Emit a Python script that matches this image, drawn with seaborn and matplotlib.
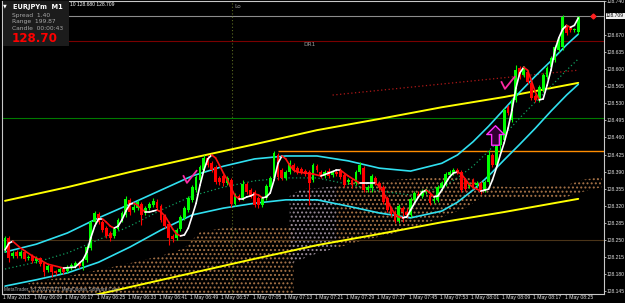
import numpy as np
import matplotlib
matplotlib.use("Agg")
import matplotlib.pyplot as plt
from matplotlib.path import Path
from matplotlib.collections import LineCollection
import matplotlib.transforms as mtransforms
import seaborn as sns

# ---------------- data (bar index 0 = 06:02, one bar per minute) ----------------
O = [128.229,128.254,128.217,128.225,128.217,128.225,128.213,128.217,128.207,128.213,
     128.202,128.188,128.196,128.186,128.184,128.190,128.186,128.192,128.196,128.202,
     128.196,128.209,128.233,128.286,128.303,128.286,128.274,128.264,128.258,128.272,
     128.291,128.301,128.332,128.311,128.315,128.323,128.305,128.315,128.321,128.327,
     128.319,128.299,128.282,128.258,128.254,128.272,128.295,128.311,128.332,128.352,
     128.373,128.393,128.418,128.407,128.399,128.377,128.381,128.366,128.373,128.323,
     128.340,128.336,128.364,128.352,128.348,128.336,128.321,128.336,128.358,128.377,
     128.424,128.393,128.377,128.389,128.403,128.397,128.395,128.391,128.389,128.373,
     128.401,128.389,128.381,128.391,128.383,128.389,128.393,128.383,128.369,128.373,
     128.366,128.389,128.397,128.352,128.356,128.377,128.366,128.358,128.336,128.315,
     128.307,128.289,128.315,128.307,128.301,128.332,128.344,128.340,128.348,128.342,
     128.329,128.332,128.356,128.364,128.383,128.387,128.393,128.389,128.373,128.360,
     128.373,128.362,128.366,128.352,128.369,128.424,128.403,128.444,128.455,128.522,
     128.496,128.537,128.602,128.588,128.594,128.572,128.545,128.537,128.557,128.584,
     128.604,128.619,128.639,128.645,128.686,128.684,128.680,128.676]
C = [128.254,128.213,128.223,128.217,128.225,128.211,128.215,128.207,128.213,128.200,
     128.184,128.196,128.184,128.182,128.190,128.184,128.194,128.198,128.202,128.196,
     128.211,128.235,128.286,128.305,128.286,128.270,128.258,128.254,128.272,128.291,
     128.305,128.334,128.307,128.317,128.327,128.301,128.315,128.323,128.329,128.315,
     128.291,128.278,128.254,128.252,128.270,128.297,128.315,128.336,128.358,128.379,
     128.399,128.418,128.403,128.393,128.369,128.369,128.366,128.377,128.323,128.342,
     128.334,128.364,128.348,128.340,128.321,128.321,128.336,128.360,128.377,128.428,
     128.379,128.377,128.389,128.407,128.393,128.389,128.389,128.385,128.366,128.403,
     128.393,128.383,128.389,128.381,128.389,128.385,128.379,128.362,128.373,128.362,
     128.389,128.403,128.352,128.358,128.381,128.366,128.356,128.327,128.311,128.303,
     128.289,128.319,128.307,128.301,128.334,128.346,128.340,128.350,128.352,128.325,
     128.334,128.358,128.366,128.385,128.389,128.393,128.389,128.352,128.354,128.364,
     128.358,128.366,128.348,128.369,128.424,128.403,128.449,128.465,128.516,128.510,
     128.537,128.598,128.584,128.602,128.574,128.541,128.537,128.563,128.588,128.602,
     128.623,128.645,128.660,128.707,128.674,128.680,128.682,128.707]
Hi = [128.258,128.258,128.227,128.229,128.229,128.229,128.219,128.221,128.217,128.215,
      128.204,128.200,128.198,128.188,128.194,128.194,128.198,128.202,128.207,128.207,
      128.215,128.239,128.291,128.309,128.307,128.291,128.278,128.268,128.276,128.295,
      128.309,128.340,128.336,128.323,128.332,128.327,128.319,128.327,128.336,128.334,
      128.323,128.303,128.286,128.262,128.274,128.301,128.319,128.340,128.362,128.383,
      128.403,128.424,128.424,128.412,128.403,128.381,128.385,128.381,128.377,128.346,
      128.344,128.373,128.369,128.356,128.352,128.340,128.340,128.364,128.381,128.432,
      128.428,128.397,128.393,128.414,128.407,128.401,128.399,128.395,128.393,128.407,
      128.405,128.393,128.393,128.397,128.393,128.393,128.397,128.387,128.377,128.377,
      128.393,128.410,128.401,128.362,128.385,128.381,128.371,128.362,128.340,128.319,
      128.311,128.323,128.319,128.315,128.338,128.350,128.350,128.354,128.356,128.346,
      128.338,128.362,128.371,128.389,128.393,128.397,128.397,128.393,128.377,128.369,
      128.377,128.371,128.371,128.373,128.434,128.428,128.453,128.469,128.520,128.526,
      128.541,128.608,128.606,128.606,128.598,128.576,128.549,128.567,128.592,128.606,
      128.627,128.649,128.664,128.711,128.690,128.686,128.684,128.709]
Lo = [128.225,128.204,128.213,128.213,128.213,128.207,128.209,128.202,128.202,128.196,
      128.176,128.184,128.174,128.178,128.180,128.180,128.182,128.188,128.192,128.192,
      128.188,128.204,128.229,128.282,128.282,128.266,128.254,128.247,128.254,128.270,
      128.286,128.297,128.301,128.307,128.311,128.280,128.301,128.311,128.317,128.311,
      128.286,128.274,128.239,128.245,128.250,128.268,128.291,128.307,128.327,128.348,
      128.369,128.389,128.399,128.389,128.364,128.362,128.360,128.362,128.317,128.319,
      128.329,128.332,128.344,128.336,128.317,128.315,128.317,128.332,128.354,128.373,
      128.373,128.373,128.373,128.385,128.389,128.385,128.385,128.381,128.321,128.369,
      128.389,128.377,128.377,128.377,128.379,128.381,128.375,128.358,128.364,128.356,
      128.362,128.385,128.348,128.348,128.348,128.362,128.352,128.323,128.307,128.299,
      128.284,128.284,128.286,128.295,128.297,128.327,128.336,128.336,128.344,128.321,
      128.325,128.327,128.352,128.360,128.379,128.383,128.385,128.348,128.350,128.356,
      128.354,128.358,128.344,128.348,128.364,128.399,128.399,128.428,128.451,128.506,
      128.492,128.533,128.580,128.584,128.569,128.537,128.533,128.533,128.553,128.580,
      128.600,128.615,128.635,128.639,128.670,128.676,128.676,128.672]

# polynomial regression channel (cyan) and its middle (dotted green)
band_bars  = [0, 8, 16, 24, 32, 40, 48, 56, 64, 72, 80, 88, 96, 104, 112, 116, 120, 124, 128, 132, 136, 140, 144, 147]
band_upper = [128.225,128.241,128.264,128.295,128.323,128.352,128.381,128.401,128.416,128.422,128.422,128.412,
              128.397,128.391,128.407,128.424,128.451,128.483,128.518,128.553,128.586,128.617,128.650,128.672]
band_lower = [128.155,128.168,128.182,128.204,128.235,128.270,128.301,128.315,128.325,128.332,128.332,128.319,
              128.305,128.295,128.309,128.327,128.352,128.381,128.414,128.446,128.479,128.514,128.547,128.569]
band_mid   = [128.190,128.204,128.223,128.250,128.278,128.311,128.340,128.358,128.371,128.377,128.377,128.364,
              128.350,128.342,128.358,128.377,128.401,128.432,128.465,128.500,128.533,128.565,128.598,128.621]

# long regression channel (yellow)
chan_bars  = [0, 16, 32, 48, 64, 80, 96, 112, 128, 147]
chan_upper = [128.330,128.358,128.389,128.418,128.446,128.475,128.498,128.522,128.543,128.572]
chan_lower = [128.124,128.124,128.153,128.182,128.211,128.239,128.262,128.286,128.307,128.334]
chan_mid_bars = [84, 147]
chan_mid      = [128.547, 128.598]

# smoothed moving average (white = rising, red = falling)
ma_bars = [0,1,2,4,7,11,15,18,20,21,22,23,24,25,26,27,28,29,30,31,32,33,34,35,36,37,38,39,40,41,42,43,44,45,46,47,
           48,49,50,51,52,53,54,55,56,57,58,59,60,61,62,63,64,65,66,67,68,69,70,71,72,73,74,75,77,79,81,83,85,86,88,
           90,91,93,95,96,97,98,99,100,101,102,103,104,105,106,107,108,109,110,111,112,113,114,115,116,117,118,119,
           120,121,122,123,124,125,126,127,128,129,130,131,132,133,134,135,136,137,138,139,140,141,142,143,144,145,146,147]
ma_vals = [128.229,128.243,128.247,128.233,128.217,128.200,128.192,128.194,128.209,128.225,128.254,128.278,128.293,
           128.293,128.286,128.278,128.274,128.278,128.291,128.309,128.323,128.325,128.321,128.313,128.307,128.307,
           128.309,128.311,128.307,128.299,128.286,128.272,128.262,128.258,128.260,128.274,128.299,128.325,128.362,
           128.393,128.416,128.424,128.418,128.403,128.387,128.373,128.356,128.340,128.334,128.334,128.338,128.340,
           128.344,128.342,128.336,128.338,128.346,128.373,128.407,128.422,128.416,128.403,128.393,128.389,128.387,
           128.385,128.381,128.387,128.393,128.393,128.381,128.371,128.366,128.366,128.366,128.360,128.346,128.332,
           128.315,128.303,128.297,128.295,128.297,128.311,128.325,128.338,128.348,128.352,128.346,128.338,128.340,
           128.352,128.366,128.379,128.387,128.389,128.385,128.375,128.364,128.358,128.354,128.350,128.352,128.354,
           128.373,128.397,128.424,128.449,128.479,128.516,128.561,128.592,128.604,128.598,128.576,128.553,128.537,
           128.539,128.567,128.598,128.639,128.664,128.682,128.690,128.686,128.690,128.705]

# Ichimoku cloud (SandyBrown / Thistle areas)
kumo1_bars = [6, 14, 24, 32, 40, 46, 50, 56, 64, 72, 74]
kumo1_top  = [128.161,128.172,128.188,128.202,128.217,128.233,128.266,128.274,128.278,128.278,128.280]
kumo1_bot  = [128.120]*11
kumo2_bars = [73, 76, 80, 85]
kumo2_top  = [128.340,128.354,128.356,128.360]
kumo2_bot  = [128.200,128.210,128.222,128.233]
kumo3_bars = [85, 90, 100, 110, 118, 122]
kumo3_top  = [128.360,128.369,128.373,128.379,128.381,128.366]
kumo3_bot  = [128.233,128.245,128.264,128.290,128.315,128.336]
kumo4_bars = [122, 131, 144, 148, 153]
kumo4_top  = [128.362,128.358,128.362,128.373,128.379]
kumo4_bot  = [128.338,128.336,128.338,128.348,128.358]

# horizontal levels
lvl_price  = 128.709
lvl_dr1    = 128.657
lvl_green  = 128.499
lvl_orange = 128.432
lvl_orange_start = 70
lvl_brown  = 128.250
lo_bar = 58.3

# signals
check_bars, check_prices = [47.2, 128.7], [128.381, 128.574]
arrow_bar, arrow_price = 125.6, 128.465
dot_bar, dot_price = 150.8, 128.709

price_ticks = [128.145,128.180,128.215,128.250,128.285,128.320,128.355,128.390,128.425,128.460,
               128.495,128.530,128.565,128.600,128.635,128.670,128.740]
time_tick_bars = [-1, 7, 15, 23, 31, 39, 47, 55, 63, 71, 79, 87, 95, 103, 111, 119, 127, 135, 143]
time_tick_labels = ["1 May 2013", "1 May 06:09", "1 May 06:17", "1 May 06:25", "1 May 06:33", "1 May 06:41",
                    "1 May 06:49", "1 May 06:57", "1 May 07:05", "1 May 07:13", "1 May 07:21", "1 May 07:29",
                    "1 May 07:37", "1 May 07:45", "1 May 07:53", "1 May 08:01", "1 May 08:09", "1 May 08:17",
                    "1 May 08:25"]

# ---------------- drawing ----------------
sns.set_theme(style="dark")
plt.rcParams['font.family'] = ['DejaVu Sans']
plt.rcParams['hatch.linewidth'] = 0.9
SMALL = ['Liberation Sans', 'DejaVu Sans']

W, H = 625, 303
YLO, YHI = 128.1388, 128.7397
fig = plt.figure(figsize=(W / 100, H / 100), dpi=100, facecolor='black')
ax = fig.add_axes([2 / W, 9 / H, 602 / W, 293 / H])
ax.set_facecolor('black')
ax.set_xlim(-0.77, 153.6)
ax.set_ylim(YLO, YHI)
ax.grid(False)

# cloud
for bars, top, bot, col in [(kumo1_bars, kumo1_top, kumo1_bot, '#a87448'),
                            (kumo2_bars, kumo2_top, kumo2_bot, '#9a8c9a'),
                            (kumo3_bars, kumo3_top, kumo3_bot, '#a87448'),
                            (kumo4_bars, kumo4_top, kumo4_bot, '#a87448')]:
    ax.fill_between(bars, bot, top, facecolor='none', edgecolor=col, hatch='....', linewidth=0, zorder=1)

# horizontal levels
ax.axhline(lvl_price, color='#8c8c8c', lw=0.8, zorder=2)
ax.axhline(lvl_dr1, color='#7a0000', lw=0.8, zorder=2)
ax.axhline(lvl_green, color='#007a00', lw=0.8, zorder=2)
ax.axhline(lvl_brown, color='#4a3418', lw=0.8, zorder=2)
ax.hlines(lvl_orange, lvl_orange_start, 153.6, color='#ff8c00', lw=1.0, zorder=2)
ax.axvline(lo_bar, color='#5a6a20', lw=0.8, ls=(0, (1, 2)), zorder=2)

# channels
sns.lineplot(x=chan_bars, y=chan_upper, ax=ax, color='#ffff00', lw=1.4, zorder=3)
sns.lineplot(x=chan_bars, y=chan_lower, ax=ax, color='#ffff00', lw=1.4, zorder=3)
sns.lineplot(x=chan_mid_bars, y=chan_mid, ax=ax, color='#b01818', lw=0.9, ls=(0, (1, 2)), zorder=3)
sns.lineplot(x=band_bars, y=band_upper, ax=ax, color='#30e0f0', lw=1.2, zorder=3)
sns.lineplot(x=band_bars, y=band_lower, ax=ax, color='#30e0f0', lw=1.2, zorder=3)
sns.lineplot(x=band_bars, y=band_mid, ax=ax, color='#10a060', lw=0.9, ls=(0, (1, 2)), zorder=3)

# candles
bars = np.arange(len(C))
O_, C_, H_, L_ = map(np.asarray, (O, C, Hi, Lo))
cols = np.where(C_ >= O_, '#00ff00', '#ff0000')
ax.vlines(bars, L_, H_, colors=cols, lw=0.8, zorder=4)
body = np.maximum(np.abs(C_ - O_), 0.0018)
ax.bar(bars, body, bottom=np.minimum(O_, C_), width=0.72, color=cols, linewidth=0, zorder=4)

# moving average coloured by direction
mx, my = np.asarray(ma_bars, float), np.asarray(ma_vals)
segs = np.stack([np.column_stack([mx[:-1], my[:-1]]), np.column_stack([mx[1:], my[1:]])], axis=1)
seg_cols = np.where(np.diff(my) >= 0, '#ffffff', '#ff1010')
ax.add_collection(LineCollection(segs, colors=seg_cols, linewidths=1.2, zorder=5, capstyle='round'))

# signal markers
check = Path([(-0.5, 0.1), (-0.2, -0.5), (0.6, 0.5)], [Path.MOVETO, Path.LINETO, Path.LINETO])
ax.plot(check_bars, check_prices, ls='none', marker=check, markersize=11, markeredgecolor='#ff2aa5',
        markerfacecolor='none', markeredgewidth=1.3, zorder=6)
arrow = Path([(0, 0.5), (0.45, 0.05), (0.2, 0.05), (0.2, -0.5), (-0.2, -0.5), (-0.2, 0.05), (-0.45, 0.05), (0, 0.5)],
             [Path.MOVETO] + [Path.LINETO] * 6 + [Path.CLOSEPOLY])
ax.plot([arrow_bar], [arrow_price], ls='none', marker=arrow, markersize=14, markeredgecolor='#ff30ff',
        markerfacecolor='#300030', markeredgewidth=1.0, zorder=6)
ax.plot([dot_bar], [dot_price], ls='none', marker='D', markersize=2.5, color='#ff2020', zorder=6)

# axes styling
for s in ax.spines.values():
    s.set_color('#c8c8c8')
    s.set_linewidth(0.8)
ax.yaxis.tick_right()
ax.set_yticks(price_ticks)
ax.set_yticklabels([f"{v:.3f}" for v in price_ticks])
ax.tick_params(axis='y', colors='#c8c8c8', labelcolor='#e0e0e0', length=1.5, width=0.6, pad=0.5, labelsize=3.6)
for t in ax.get_yticklabels():
    t.set_family(SMALL)
ax.set_xticks([b for b in time_tick_bars if b >= 0])
ax.set_xticklabels([])
ax.tick_params(axis='x', colors='#c8c8c8', length=2.5, width=0.6)
xtrans = mtransforms.blended_transform_factory(ax.transData, fig.transFigure)
for b, lab in zip(time_tick_bars, time_tick_labels):
    ax.text(b + 0.5, 5.5 / H, lab, transform=xtrans, fontsize=3.7, color='#e0e0e0', family=SMALL,
            ha='left', va='center', clip_on=False)

# current price label on the scale
ax.text(1.0035, (lvl_price - YLO) / (YHI - YLO), f"{lvl_price:.3f}", transform=ax.transAxes,
        fontsize=3.6, color='black', ha='left', va='center', family=SMALL,
        bbox=dict(boxstyle='square,pad=0.1', fc='#f0f0f0', ec='none'))

# info panel and labels (figure pixel layout)
def fx(px):
    return px / W
def fy(py):
    return 1 - py / H

fig.patches.append(plt.Rectangle((fx(3), fy(46)), fx(66), 45 / H, transform=fig.transFigure,
                                 facecolor='#1c1c1c', edgecolor='none', zorder=10))
fig.text(fx(3), fy(5.5), "\u25bc", fontsize=3.5, color='white', va='center', ha='left', zorder=11)
fig.text(fx(13), fy(7), "EURJPYm  M1", fontsize=4.8, color='white', weight='bold', va='center', zorder=11)
fig.text(fx(12), fy(15), "Spread  1.40", fontsize=4.3, color='#a8a8a8', va='center', zorder=11)
fig.text(fx(12), fy(21.5), "Range  199.87", fontsize=4.3, color='#a8a8a8', va='center', zorder=11)
fig.text(fx(12), fy(28), "Candle  00:00:43", fontsize=4.3, color='#a8a8a8', va='center', zorder=11)
fig.text(fx(12), fy(38.5), "128.70", fontsize=8.6, color='#ff0000', weight='bold', va='center', zorder=11)
fig.text(fx(70), fy(5), "10 128.680 128.709", fontsize=3.6, color='white', va='center', family=SMALL, zorder=11)
fig.text(fx(234), fy(6), "Lo", fontsize=4.2, color='#9a9a9a', va='center', zorder=11)
fig.text(fx(303), fy(45), "DR1", fontsize=4.2, color='#9a9a9a', va='center', zorder=11)
fig.text(fx(4), fy(289), "MetaTrader, (c) 2001-2013, MetaQuotes Software Corp.", fontsize=3.3,
         color='#b0b0b0', va='center', family=SMALL, zorder=11)

fig.savefig("out.png", dpi=100, facecolor='black')
